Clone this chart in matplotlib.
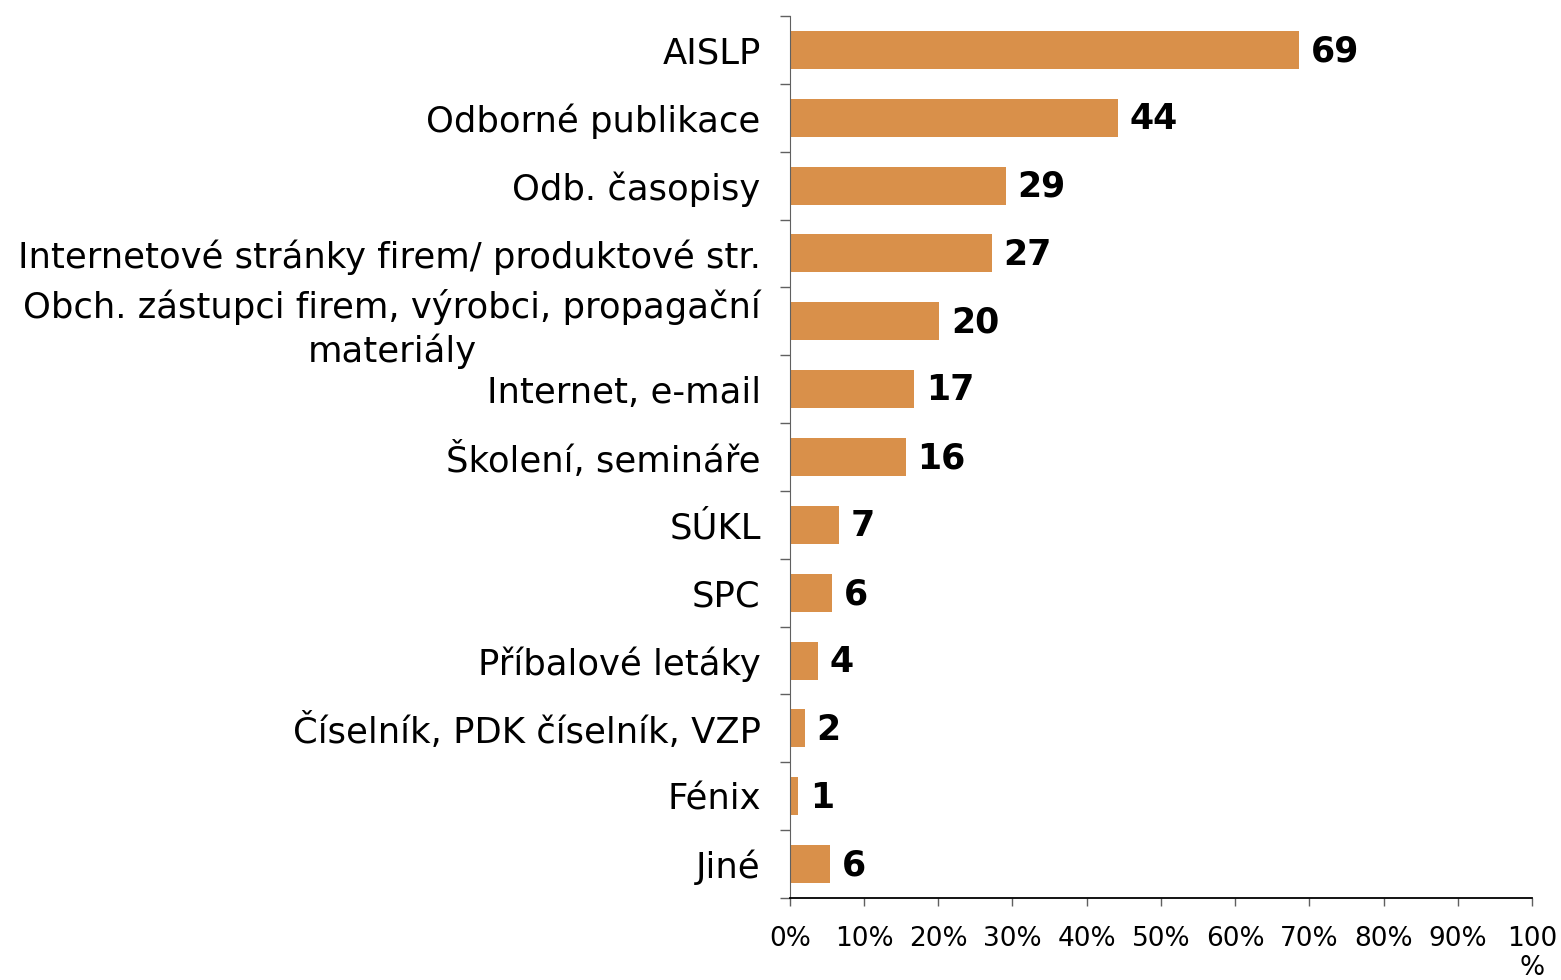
import matplotlib.pyplot as plt
import numpy as np

plt.rcParams['font.family'] = ['DejaVu Sans']

kategorie = [
    "AISLP",
    "Odborné publikace",
    "Odb. časopisy",
    "Internetové stránky firem/ produktové str.",
    "Obch. zástupci firem, výrobci, propagační\nmateriály",
    "Internet, e-mail",
    "Školení, semináře",
    "SÚKL",
    "SPC",
    "Příbalové letáky",
    "Číselník, PDK číselník, VZP",
    "Fénix",
    "Jiné",
]
podil = [68.6, 44.2, 29.1, 27.2, 20.1, 16.7, 15.6, 6.6, 5.7, 3.8, 2.0, 1.1, 5.4]
popisky = ["69", "44", "29", "27", "20", "17", "16", "7", "6", "4", "2", "1", "6"]
x_ticks = [0, 10, 20, 30, 40, 50, 60, 70, 80, 90, 100]
x_labels = ["0%", "10%", "20%", "30%", "40%", "50%", "60%", "70%", "80%", "90%", "100\n%"]

fig = plt.figure(figsize=(15.61, 9.8), dpi=100)
ax = fig.add_axes([0.506, 0.0837, 0.4754, 0.9])

y = np.arange(len(kategorie))
ax.barh(y, podil, height=0.56, color="#d9904a", zorder=2)
for yi, v, t in zip(y, podil, popisky):
    ax.text(v + 1.6, yi + 0.02, t, va="center", ha="left", fontsize=25, fontweight="bold")

ax.set_ylim(len(kategorie) - 0.5, -0.5)
ax.set_xlim(0, 100)

ax.set_yticks(y)
ax.set_yticklabels(kategorie, fontsize=25.5, multialignment="center", linespacing=1.3)
ax.set_yticks(np.arange(len(kategorie) + 1) - 0.5, minor=True)
ax.tick_params(axis="y", which="major", length=0, pad=21)
ax.tick_params(axis="y", which="minor", length=7, width=1, color="#606060")

ax.set_xticks(x_ticks)
ax.set_xticklabels(x_labels, fontsize=19, linespacing=1.15, va="top")
ax.tick_params(axis="x", length=6, width=1, color="#606060", pad=14)

for s in ["top", "right"]:
    ax.spines[s].set_visible(False)
ax.spines["left"].set_color("#606060")
ax.spines["bottom"].set_color("#000000")
ax.spines["bottom"].set_linewidth(1.3)

fig.savefig("out.png", dpi=100)
